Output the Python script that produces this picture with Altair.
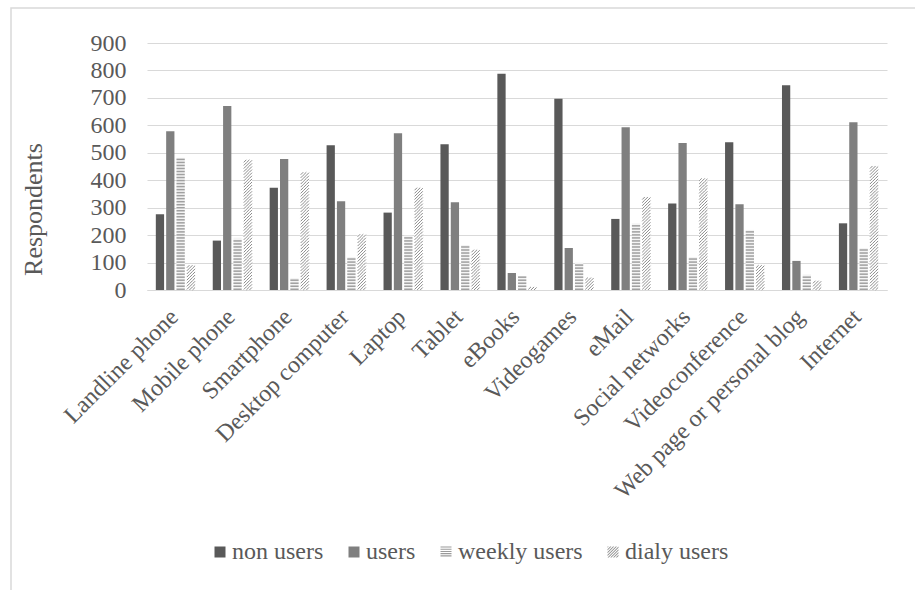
import altair as alt
import pandas as pd

categories = ["Landline phone", "Mobile phone", "Smartphone", "Desktop computer",
              "Laptop", "Tablet", "eBooks", "Videogames", "eMail",
              "Social networks", "Videoconference", "Web page or personal blog",
              "Internet"]
series_names = ["non users", "users", "weekly users", "dialy users"]
non_users = [276, 180, 373, 527, 282, 531, 788, 697, 259, 315, 538, 746, 243]
users = [578, 670, 477, 323, 571, 320, 62, 153, 593, 536, 312, 106, 611]
weekly_users = [482, 191, 44, 120, 198, 164, 51, 100, 243, 120, 219, 57, 153]
daily_users = [92, 477, 434, 204, 373, 153, 11, 55, 350, 417, 92, 44, 459]

rows = []
for name, vals in zip(series_names, [non_users, users, weekly_users, daily_users]):
    for c, v in zip(categories, vals):
        rows.append({"category": c, "series": name, "value": v})
df = pd.DataFrame(rows)

FONT = "Liberation Serif"
TXT = "#595959"
GRID = "#d9d9d9"

# ---- symbol paths for the legend ----
def clip(poly, a, b, c):
    out = []
    n = len(poly)
    for i in range(n):
        p, q = poly[i], poly[(i + 1) % n]
        fp = a * p[0] + b * p[1] - c
        fq = a * q[0] + b * q[1] - c
        if fp <= 0:
            out.append(p)
        if fp * fq < 0:
            t = fp / (fp - fq)
            out.append((p[0] + t * (q[0] - p[0]), p[1] + t * (q[1] - p[1])))
    return out

def path_of(poly):
    return "M" + "L".join(f"{x:.3f},{y:.3f}" for x, y in poly) + "Z"

square = "M-1,-1H1V1H-1Z"
stripes = "".join(f"M-1,{y0:.2f}H1V{y0 + 0.2:.2f}H-1Z" for y0 in [-1, -0.6, -0.2, 0.2, 0.6])
hatch_parts = []
for c0 in [-2.0, -1.5, -1.0, -0.5, 0.0, 0.5, 1.0, 1.5]:
    poly = [(-1, -1), (1, -1), (1, 1), (-1, 1)]
    poly = clip(poly, 1, 1, c0 + 0.22)
    poly = clip(poly, -1, -1, -c0)
    if len(poly) >= 3:
        hatch_parts.append(path_of(poly))
hatch_sym = "".join(hatch_parts)

hatch_tile = "M-1,0.25L-0.375,-0.375M-0.375,0.375L0.375,-0.375M0.375,0.375L1,-0.25"

W, H = 740, 247
px_per_unit = H / 900.0
bar_w = W / 13 * 0.69 / 3.8 * 0.8
tile_units = 0.75 * (bar_w / 2) / px_per_unit
half = tile_units / 2

x_enc = alt.X("category:N", scale=alt.Scale(domain=categories, paddingInner=0.31, paddingOuter=0.155),
              axis=alt.Axis(title=None, labelAngle=-45, labelAlign="right", labelBaseline="middle",
                            labelFontSize=24, labelFont=FONT, labelColor=TXT, ticks=False, tickSize=0,
                            domainColor=GRID, domainWidth=1, labelPadding=23, labelOffset=-1,
                            labelLimit=500, grid=False))
xo_enc = alt.XOffset("series:N", scale=alt.Scale(domain=series_names, paddingInner=0.2, paddingOuter=0))
y_scale = alt.Scale(domain=[0, 900], nice=False)
y_axis = alt.Axis(values=list(range(0, 901, 100)), grid=True, gridColor=GRID, gridWidth=1,
                  domain=False, ticks=False, tickSize=0, labelPadding=21,
                  labelFontSize=24, labelFont=FONT, labelColor=TXT,
                  title="Respondents", titleFont=FONT, titleFontSize=26,
                  titleFontWeight="normal", titleColor=TXT, titleAngle=-90,
                  titleX=-106, titleY=166, titleAlign="center", titleBaseline="alphabetic")

legend = alt.Legend(title=None, orient="none", legendX=61, legendY=497, direction="horizontal",
                    labelFont=FONT)

legend_layer = alt.Chart(df).mark_point(filled=True, opacity=0, size=1).encode(
    x=x_enc, xOffset=xo_enc,
    y=alt.Y("value:Q", scale=y_scale, axis=y_axis),
    fill=alt.Fill("series:N", scale=alt.Scale(domain=series_names,
                                              range=["#595959", "#7f7f7f", "#9a9a9a", "#8c8c8c"]),
                  legend=legend),
    shape=alt.Shape("series:N", scale=alt.Scale(domain=series_names,
                                                range=[square, square, stripes, hatch_sym]),
                    legend=legend),
)

bars = alt.Chart(df).mark_bar().encode(
    x=x_enc, xOffset=xo_enc,
    y=alt.Y("value:Q", scale=y_scale, axis=y_axis),
    color=alt.Color("series:N", scale=alt.Scale(domain=series_names,
                                                range=["#595959", "#7f7f7f", "#f4f4f4", "#ffffff"]),
                    legend=None),
)

weekly_stripes = alt.Chart(df).transform_filter(
    alt.datum.series == "weekly users"
).transform_calculate(
    s="sequence(0, datum.value - 4, 11)"
).transform_flatten(["s"]).transform_calculate(
    s2="datum.s + 5.5"
).mark_bar(color="#a0a0a0").encode(
    x=x_enc, xOffset=xo_enc,
    y=alt.Y("s:Q", scale=y_scale, axis=y_axis),
    y2="s2:Q",
)

daily_hatch = alt.Chart(df).transform_filter(
    alt.datum.series == "dialy users"
).transform_calculate(
    s=f"sequence({half:.3f}, max(datum.value - {half:.3f}, {half:.3f}) + 0.01, {tile_units:.3f})"
).transform_flatten(["s"]).mark_point(
    shape=hatch_tile, filled=False, size=bar_w * bar_w, stroke="#8c8c8c", strokeWidth=1, opacity=1
).encode(
    x=x_enc, xOffset=xo_enc,
    y=alt.Y("s:Q", scale=y_scale, axis=y_axis),
)

border = alt.Chart(pd.DataFrame({"k": [0]})).mark_rect(
    filled=False, stroke=GRID, strokeWidth=1.5
).encode(
    x=alt.value(-136), x2=alt.value(800), y=alt.value(-35), y2=alt.value(600)
)

chart = alt.layer(legend_layer, bars, weekly_stripes, daily_hatch, border).properties(
    width=W, height=H,
    autosize=alt.AutoSizeParams(type="none"),
    padding={"left": 147, "top": 43, "right": 28, "bottom": 300},
    background="white",
).configure(font=FONT).configure_view(stroke=None).configure_legend(
    symbolSize=121, symbolOpacity=1, symbolStrokeWidth=0, labelFont=FONT,
    labelFontSize=24, labelColor=TXT, labelOffset=0, columnPadding=18,
    labelLimit=400, padding=0
)

chart.save("out.html", embed_options={"renderer": "svg", "actions": False})
